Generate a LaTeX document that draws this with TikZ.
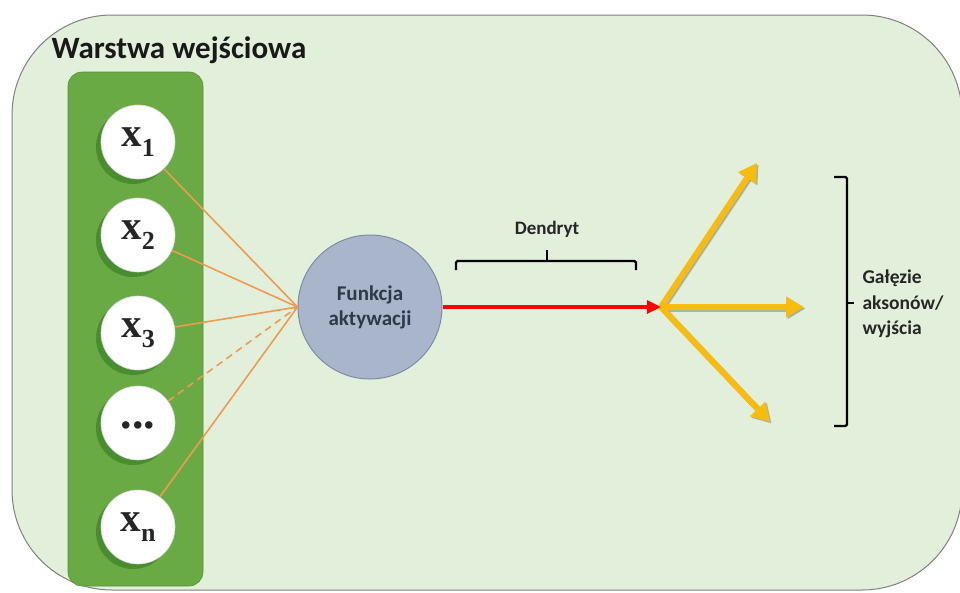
\documentclass[tikz,border=0pt]{standalone}
\usepackage{fontspec}
\setmainfont{Carlito}
\newfontfamily\serifx{Liberation Serif}
\usetikzlibrary{arrows.meta,shadows}
\definecolor{bgc}{HTML}{E2EFDA}
\definecolor{colg}{HTML}{6AAA45}
\definecolor{actc}{HTML}{A9B5CB}
\definecolor{actb}{HTML}{7F8CA5}
\definecolor{orc}{HTML}{F09A50}
\definecolor{yel}{HTML}{F8BC10}
\definecolor{txtd}{HTML}{2E3A4A}
\tikzset{
  inp/.style={circle, fill=white, draw=white!85!black, line width=0.6pt, minimum size=74pt, inner sep=0pt,
    drop shadow={shadow xshift=-5pt, shadow yshift=-5pt, opacity=0.3, fill=black!70!green}},
  inl/.style={orc, line width=1.6pt},
  yarrow/.style={yel, line width=6pt, -{Triangle[length=18pt,width=20pt]}},
  yshadow/.style={black, opacity=0.25, line width=6pt, -{Triangle[length=18pt,width=20pt]}},
  brk/.style={black, line width=2.4pt, rounded corners=1.5pt},
  lbl/.style={font=\bfseries\fontsize{19}{22}\selectfont, text=black!85},
  xl/.style={font=\serifx\bfseries\fontsize{41}{41}\selectfont, text=black!85}
}
\newcommand{\xs}[1]{x\raisebox{-10pt}{\fontsize{26}{26}\selectfont #1}}
\begin{document}
\begin{tikzpicture}[x=1pt,y=-1pt]
\useasboundingbox (0,0) rectangle (960,592);
% background
\draw[fill=bgc, draw=black!50, line width=1pt, rounded corners=100pt] (12,15) rectangle (962,590);
% title
\node[anchor=west, font=\bfseries\fontsize{31}{34}\selectfont, text=black!90] (title) at (48,50) {Warstwa wejściowa};
% green column
\draw[fill=colg, draw=colg!85!black, line width=0.6pt, rounded corners=14pt] (68,72) rectangle (203,586);
% inputs
\node[inp, xl] (x1) at (138,142) {\xs{1}};
\node[inp, xl] (x2) at (138,235) {\xs{2}};
\node[inp, xl] (x3) at (138,333) {\xs{3}};
\node[inp, xl] (xd) at (138,423) {\raisebox{-12pt}{\fontsize{46}{46}\selectfont\bfseries...}};
\node[inp, xl] (xn) at (138,527) {\xs{n}};
% activation
\node[circle, fill=actc, draw=actb, line width=1pt, minimum size=144pt, inner sep=0pt,
      align=center, font=\bfseries\fontsize{21}{25}\selectfont, text=txtd] (act) at (370,307) {Funkcja\\aktywacji};
% input lines
\draw[inl] (x1) -- (act.west);
\draw[inl] (x2) -- (act.west);
\draw[inl] (x3) -- (act.west);
\draw[inl, dashed, dash pattern=on 7pt off 5pt] (xd) -- (act.west);
\draw[inl] (xn) -- (act.west);
% axon
\coordinate (hub) at (661,307);
\draw[red, line width=3.2pt, -{Triangle[length=14pt,width=13pt]}] (act.east) -- (hub);
% dendryt brace
\coordinate (b1) at (456,270);
\coordinate (b2) at (636,270);
\coordinate (bt) at (547,250);
\draw[brk] (b1) -- (456,261) -- (636,261) -- (b2);
\draw[brk] (547,261) -- (bt);
\node[lbl] (dend) at (547,229) {Dendryt};
% output arrows
\coordinate (o1) at (757,163);
\coordinate (o2) at (804,307);
\coordinate (o3) at (770,422);
\draw[yshadow] ([shift={(1.5,1.5)}]hub) -- ([shift={(1.5,1.5)}]o1);
\draw[yshadow] ([shift={(1.5,1.5)}]hub) -- ([shift={(1.5,1.5)}]o2);
\draw[yshadow] ([shift={(1.5,1.5)}]hub) -- ([shift={(1.5,1.5)}]o3);
\draw[yarrow] (hub) -- (o1);
\draw[yarrow] (hub) -- (o2);
\draw[yarrow] (hub) -- (o3);
% right bracket
\coordinate (r1) at (834,177);
\coordinate (r2) at (834,426);
\coordinate (rt) at (854,303);
\draw[brk] (r1) -- (847,177) -- (847,426) -- (r2);
\draw[brk] (847,303) -- (rt);
\node[lbl, anchor=west, align=left, font=\bfseries\fontsize{19.5}{25.5}\selectfont] (gal) at (859,304) {Gałęzie\\aksonów/\\wyjścia};
\end{tikzpicture}
\end{document}
